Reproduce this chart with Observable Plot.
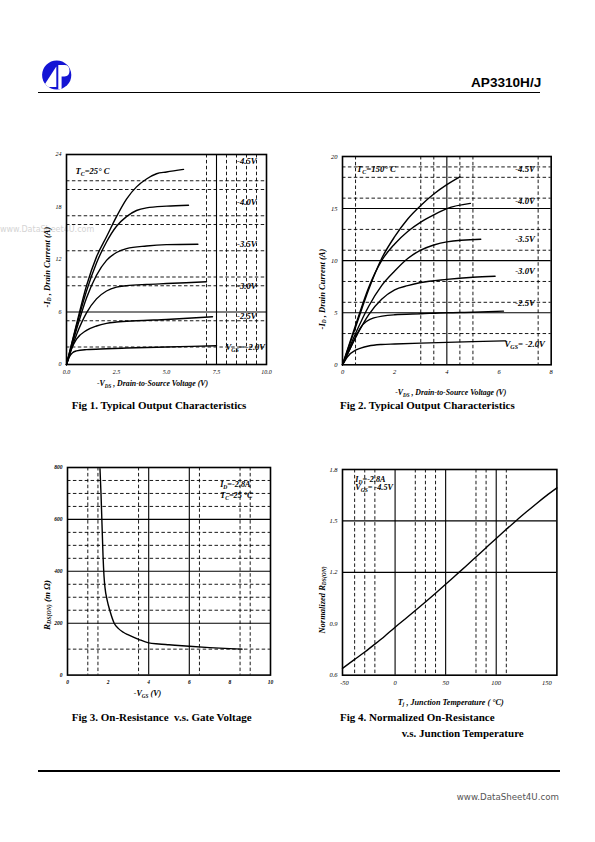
<!DOCTYPE html>
<html><head><meta charset="utf-8">
<script src="https://cdn.jsdelivr.net/npm/d3@7"></script>
<script src="https://cdn.jsdelivr.net/npm/@observablehq/plot@0.6"></script>
<style>
body{margin:0;background:#fff;}
#page{position:relative;width:595px;height:842px;overflow:hidden;background:#fff;font-family:"Liberation Serif",serif;color:#000;}
.abs{position:absolute;white-space:nowrap;line-height:1;}
.cap{font-weight:bold;font-size:11px;transform:translateY(-50%);}
.ax{font-weight:bold;font-style:italic;}
.rot{transform:translate(-50%,-50%) rotate(-90deg);}
.ctr{transform:translate(-50%,-50%);}
sub{font-size:0.65em;vertical-align:-0.3em;line-height:0;}
.wrap{position:absolute;}
.wrap svg{overflow:visible;background:transparent;}
</style></head><body><div id="page"></div>
<script>
// ================= DATA =================
// ---- Fig 1: Typical Output Characteristics, Tc = 25°C  ([-VDS (V), -ID (A)]) ----
const fig1Vgs45 = [[0,0],[0.5,4.6],[1,9.0],[1.5,12.3],[2,14.6],[2.5,16.9],[3,18.9],[3.5,20.3],[4,21.2],[4.5,21.8],[5,22.0],[5.85,22.3]];
const fig1Vgs40 = [[0,0],[0.5,4.4],[1,8.4],[1.5,11.6],[2,14.0],[2.5,15.8],[3,16.9],[3.5,17.6],[4,17.9],[5,18.1],[6.1,18.2]];
const fig1Vgs35 = [[0,0],[0.5,4.0],[1,7.6],[1.5,10.2],[2,11.9],[2.5,12.8],[3,13.25],[4,13.55],[5,13.7],[6.57,13.75]];
const fig1Vgs30 = [[0,0],[0.5,3.4],[1,5.9],[1.5,7.5],[2,8.4],[2.5,8.85],[3,9.0],[4,9.15],[5,9.25],[7.0,9.45]];
const fig1Vgs25 = [[0,0],[0.25,1.8],[0.5,2.9],[1,3.9],[1.5,4.4],[2,4.7],[2.5,4.85],[3.5,5.0],[5,5.15],[7.3,5.45]];
const fig1Vgs20 = [[0,0],[0.15,0.9],[0.3,1.35],[0.5,1.55],[1,1.7],[2,1.8],[3,1.88],[5,2.0],[7.5,2.15]];
const fig1LabelText = ["-4.5V","-4.0V","-3.5V","-3.0V","-2.5V","V{GS}= -2.0V","T{C}=25° C"];
const fig1LabelX = [8.53,8.53,8.53,8.53,8.53,7.95,0.45];
const fig1LabelY = [23.27,18.51,13.78,8.98,5.52,2.01,22.09];
const fig1XTicks = [0,2.5,5,7.5,10];
const fig1YTicks = [0,6,12,18,24];
const fig1GridYDashed = [2,5,9,10,13,16,17,20,21];
const fig1GridYSolid = [6];
const fig1GridXDashed = [7,8,8.5,9,9.5];
const fig1GridXSolid = [7.5];

// ---- Fig 2: Typical Output Characteristics, Tc = 150°C ----
const fig2Vgs45 = [[0,0],[0.5,3.6],[1,7.2],[1.5,10.2],[2,12.3],[2.5,14.0],[3,15.3],[3.5,16.4],[4,17.3],[4.5,18.05]];
const fig2Vgs40 = [[0,0],[0.5,3.8],[1,7.4],[1.5,10.0],[2,11.6],[2.5,12.8],[3,13.7],[3.5,14.4],[4,15.0],[4.9,15.5]];
const fig2Vgs35 = [[0,0],[0.5,3.0],[1,5.6],[1.5,7.6],[2,9.0],[2.5,10.2],[3,11.0],[3.5,11.5],[4,11.8],[5.3,12.05]];
const fig2Vgs30 = [[0,0],[0.5,2.6],[1,4.8],[1.5,6.3],[2,7.2],[2.5,7.6],[3,7.9],[4,8.2],[5,8.4],[5.85,8.5]];
const fig2Vgs25 = [[0,0],[0.3,1.6],[0.7,3.6],[1.2,4.5],[2,4.8],[3,4.9],[4,5.0],[5,5.05],[6.17,5.15]];
const fig2Vgs20 = [[0,0],[0.2,0.8],[0.5,1.4],[0.7,1.6],[1,1.8],[1.5,1.95],[2,2.0],[3,2.08],[4,2.15],[5,2.22],[6.26,2.3]];
const fig2LabelText = ["-4.5V","-4.0V","-3.5V","-3.0V","-2.5V","V{GS}= -2.0V","T{C}=150° C"];
const fig2LabelX = [6.62,6.62,6.62,6.62,6.62,6.21,0.55];
const fig2LabelY = [18.75,15.71,12.03,8.96,5.89,1.95,18.82];
const fig2XTicks = [0,2,4,6,8];
const fig2YTicks = [0,5,10,15,20];
const fig2GridYDashed = [3,6,8,11,13,16,18,19];
const fig2GridYSolid = [5,10,15];
const fig2GridXDashed = [0.5,3,3.5,4.5,5,7.5];
const fig2GridXSolid = [4];

// ---- Fig 3: On-Resistance vs Gate Voltage  ([-VGS (V), RDS(ON) (mΩ)]) ----
const fig3Rds = [[1.6,795],[1.65,700],[1.7,580],[1.75,460],[1.8,380],[1.85,335],[1.95,290],[2.1,245],[2.3,200],[2.5,180],[2.75,165],[3.0,155],[3.5,138],[4.0,124],[4.5,120],[5,117],[6,111],[7,106],[8,102],[8.6,100]];
const fig3LabelText = ["I{D}=-2.8A","T{C}=25 °C"];
const fig3LabelX = [7.52,7.52];
const fig3LabelY = [736,691];
const fig3XTicks = [0,2,4,6,8,10];
const fig3YTicks = [0,200,400,600,800];
const fig3GridYDashed = [100,250,300,350,450,500,550,650,700,750];
const fig3GridYSolid = [200,400,600];
const fig3GridXDashed = [1,1.5,3.5,6.5,8.5,9];
const fig3GridXSolid = [4,6];

// ---- Fig 4: Normalized On-Resistance vs Junction Temperature ([Tj (°C), normalized RDS(ON)]) ----
const fig4Rn = [[-52,0.64],[-40,0.692],[-30,0.735],[-20,0.781],[-10,0.829],[0,0.88],[10,0.928],[20,0.977],[30,1.027],[40,1.078],[50,1.13],[60,1.183],[70,1.236],[80,1.29],[90,1.344],[100,1.398],[110,1.451],[120,1.503],[130,1.553],[140,1.602],[150,1.649],[160,1.693]];
const fig4LabelText = ["I{D}=-2.8A","V{GS}= -4.5V"];
const fig4LabelX = [-39.4,-39.4];
const fig4LabelY = [1.743,1.693];
const fig4XTicks = [-50,0,50,100,150];
const fig4YTicks = [0.6,0.9,1.2,1.5,1.8];
const fig4GridYDashed = [];
const fig4GridYSolid = [1.2,1.5];
const fig4GridXDashed = [-40,-30,-20,20,30,40,80,90,110];
const fig4GridXSolid = [0,50,100];

// ================= RENDER =================
const page = document.getElementById("page");
function add(html, cls, left, top, extra) {
  const d = document.createElement("div");
  d.className = "abs " + (cls || "");
  d.style.left = left + "px"; d.style.top = top + "px";
  if (extra) Object.assign(d.style, extra);
  d.innerHTML = html;
  page.appendChild(d);
  return d;
}

function subify(svg) {
  d3.select(svg).selectAll("text").each(function () {
    const t = this.textContent;
    if (!t.includes("{")) return;
    const parts = t.split(/(\{[^}]*\})/).filter(p => p.length);
    this.textContent = "";
    let shifted = false;
    for (const p of parts) {
      const ts = document.createElementNS("http://www.w3.org/2000/svg", "tspan");
      if (p.startsWith("{")) {
        ts.textContent = p.slice(1, -1);
        ts.setAttribute("font-size", "0.68em");
        ts.setAttribute("dy", "2");
        shifted = true;
      } else {
        ts.textContent = p;
        if (shifted) { ts.setAttribute("dy", "-2"); shifted = false; }
      }
      this.appendChild(ts);
    }
  });
}

function buildChart(o) {
  const dash = "3.5,2.4";
  const labels = o.labelText.map((t, i) => ({t, x: o.labelX[i], y: o.labelY[i]}));
  const marks = [
    Plot.ruleY(o.gyd, {stroke: "#000", strokeWidth: 0.9, strokeDasharray: dash}),
    Plot.ruleX(o.gxd, {stroke: "#000", strokeWidth: 0.9, strokeDasharray: dash}),
    Plot.ruleY(o.gys, {stroke: "#000", strokeWidth: 1.1}),
    Plot.ruleX(o.gxs, {stroke: "#000", strokeWidth: 1.1}),
    ...o.series.map(s => Plot.line(s, {x: d => d[0], y: d => d[1], curve: o.curve || "monotone-x", stroke: "#000", strokeWidth: 1.4})),
    Plot.text(labels, {x: "x", y: "y", text: "t", textAnchor: "start", fontSize: o.lfs, fontWeight: "bold", fontStyle: "italic", fontFamily: "Liberation Serif", fill: "#000"}),
    Plot.frame({stroke: "#000", strokeWidth: 1.6})
  ];
  const svg = Plot.plot({
    width: o.w, height: o.h,
    marginLeft: 30, marginRight: 5, marginTop: 5, marginBottom: 18,
    x: {domain: o.xd, ticks: o.xt, tickFormat: o.xf, tickSize: 0, tickPadding: 5, label: null},
    y: {domain: o.yd, ticks: o.yt, tickFormat: o.yf, tickSize: 0, tickPadding: 5, label: null},
    style: {fontFamily: "Liberation Serif", fontSize: o.tfs + "px", fontStyle: "italic", fontWeight: o.tfw, color: "#000", background: "transparent", overflow: "visible"},
    marks
  });
  subify(svg);
  const wrap = document.createElement("div");
  wrap.className = "wrap";
  wrap.style.left = o.left + "px"; wrap.style.top = o.top + "px";
  wrap.appendChild(svg);
  page.appendChild(wrap);
  return svg;
}

// watermark (behind charts)
add("www.DataSheet4U.com", "", 0, 230, {fontFamily: "DejaVu Sans", fontSize: "8px", color: "#d4d4d4", transform: "translateY(-50%)"});

// header
const logo = document.createElementNS("http://www.w3.org/2000/svg", "svg");
logo.setAttribute("width", "40"); logo.setAttribute("height", "40");
logo.style.position = "absolute"; logo.style.left = "37px"; logo.style.top = "55px";
logo.innerHTML = '<defs><clipPath id="lc"><circle cx="19.7" cy="20" r="14.6"/></clipPath></defs>' +
  '<circle cx="19.7" cy="20" r="14.6" fill="#1414d4"/>' +
  '<g clip-path="url(#lc)" fill="#fff">' +
  '<polygon points="6,32 19.3,11.5 19.3,32"/>' +
  '<path d="M21.3,10 L27.5,10 Q32.5,10 32.5,15.8 Q32.5,21.5 27.5,21.5 L24.6,21.5 L24.6,34 L21.3,34 Z"/>' +
  '</g>';
page.appendChild(logo);
add("AP3310H/J", "", 471, 83.3, {fontFamily: "Liberation Sans", fontWeight: "bold", fontSize: "13.6px", transform: "translateY(-50%)"});
add("", "", 38, 91.6, {width: "502px", height: "1.5px", background: "#000"});

// Fig 1
buildChart({
  left: 36, top: 149.3, w: 235, h: 233,
  xd: [0, 10], yd: [0, 24], xt: fig1XTicks, yt: fig1YTicks,
  xf: d => d.toFixed(1), yf: d => String(d), tfs: 6, tfw: "normal", lfs: 8.6,
  gyd: fig1GridYDashed, gys: fig1GridYSolid, gxd: fig1GridXDashed, gxs: fig1GridXSolid,
  series: [fig1Vgs45, fig1Vgs40, fig1Vgs35, fig1Vgs30, fig1Vgs25, fig1Vgs20],
  labelText: fig1LabelText, labelX: fig1LabelX, labelY: fig1LabelY
});
add("-I<sub>D</sub> , Drain Current (A)", "ax rot", 46.7, 266.7, {fontSize: "8.5px"});
add("-V<sub>DS</sub> , Drain-to-Source Voltage (V)", "ax ctr", 152.5, 384.3, {fontSize: "7.8px"});

// Fig 2
buildChart({
  left: 312.3, top: 151, w: 243.7, h: 231.3,
  xd: [0, 8], yd: [0, 20], xt: fig2XTicks, yt: fig2YTicks,
  xf: d => String(d), yf: d => String(d), tfs: 6.5, tfw: "normal", lfs: 8.8,
  gyd: fig2GridYDashed, gys: fig2GridYSolid, gxd: fig2GridXDashed, gxs: fig2GridXSolid,
  series: [fig2Vgs45, fig2Vgs40, fig2Vgs35, fig2Vgs30, fig2Vgs25, fig2Vgs20],
  labelText: fig2LabelText, labelX: fig2LabelX, labelY: fig2LabelY
});
add("-I<sub>D</sub> , Drain Current (A)", "ax rot", 321.7, 289, {fontSize: "8.5px"});
add("-V<sub>DS</sub> , Drain-to-Source Voltage (V)", "ax ctr", 450.8, 393.3, {fontSize: "7.8px"});

// Fig 3
buildChart({
  left: 37.3, top: 461.7, w: 238, h: 230.6,
  xd: [0, 10], yd: [0, 800], xt: fig3XTicks, yt: fig3YTicks,
  xf: d => String(d), yf: d => String(d), tfs: 5.5, tfw: "bold", lfs: 8.2,
  gyd: fig3GridYDashed, gys: fig3GridYSolid, gxd: fig3GridXDashed, gxs: fig3GridXSolid,
  series: [fig3Rds],
  labelText: fig3LabelText, labelX: fig3LabelX, labelY: fig3LabelY
});
add("R<sub>DS(ON)</sub> (m Ω)", "ax rot", 46.7, 605, {fontSize: "9px"});
add("-V<sub>GS</sub> (V)", "ax ctr", 147.5, 694.3, {fontSize: "8px"});

// Fig 4
buildChart({
  left: 312.3, top: 464.3, w: 249.4, h: 228.7,
  xd: [-52, 160], yd: [0.6, 1.8], xt: fig4XTicks, yt: fig4YTicks,
  xf: d => String(d), yf: d => d.toFixed(1), tfs: 6.5, tfw: "normal", lfs: 8.2,
  gyd: fig4GridYDashed, gys: fig4GridYSolid, gxd: fig4GridXDashed, gxs: fig4GridXSolid,
  series: [fig4Rn], curve: "natural",
  labelText: fig4LabelText, labelX: fig4LabelX, labelY: fig4LabelY
});
add("Normalized R<sub>DS(ON)</sub>", "ax rot", 321.7, 600, {fontSize: "8.5px"});
add("T<sub>j</sub> , Junction Temperature ( °C)", "ax ctr", 450.8, 703.3, {fontSize: "8.2px"});

// captions
add("Fig 1. Typical Output Characteristics", "cap", 71.7, 405);
add("Fig 2. Typical Output Characteristics", "cap", 340, 405);
add("Fig 3. On-Resistance&nbsp; v.s. Gate Voltage", "cap", 71.7, 716.7);
add("Fig 4. Normalized On-Resistance", "cap", 340, 716.7);
add("v.s. Junction Temperature", "cap", 401.7, 733.3);

// footer
add("", "", 38, 769.5, {width: "522px", height: "2.4px", background: "#000"});
add("www.DataSheet4U.com", "", 456.7, 796.7, {fontFamily: "DejaVu Sans", fontSize: "8.7px", color: "#555", transform: "translateY(-50%)"});
</script></body></html>
